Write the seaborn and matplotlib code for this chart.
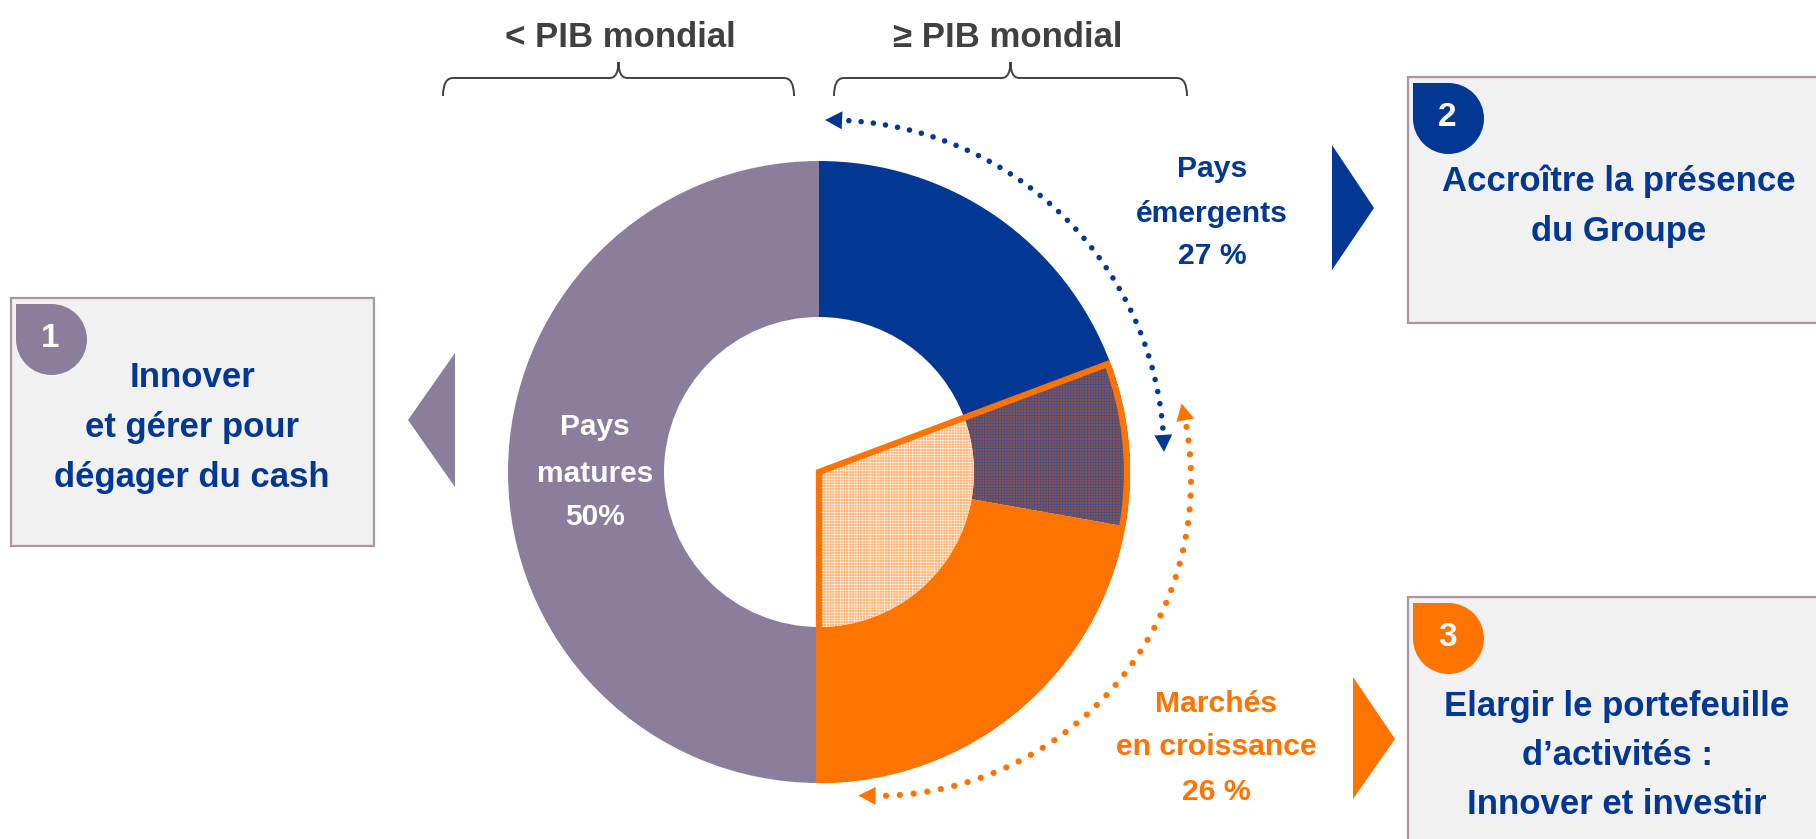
import numpy as np
import matplotlib
matplotlib.use("Agg")
import matplotlib.pyplot as plt
import seaborn as sns
from matplotlib.patches import Wedge, Rectangle, Circle, Polygon, PathPatch
from matplotlib.path import Path

# ring shares in %, clockwise from 12 o'clock
ring_labels = ["Pays émergents", "Émergents et croissance", "Marchés en croissance", "Pays matures"]
ring_shares = [19.3, 8.5, 22.2, 50.0]

seg_texts = ["Pays\némergents\n27 %", "Marchés\nen croissance\n26 %", "Pays\nmatures\n50%"]
pib_titles = ["< PIB mondial", "≥ PIB mondial"]
box_numbers = ["1", "2", "3"]
box_texts = ["Innover\net gérer pour\ndégager du cash",
             "Accroître la présence\ndu Groupe",
             "Elargir le portefeuille\nd’activités :\nInnover et investir"]

BLUE = "#023893"
PURPLE = "#8a7e9c"
ORANGE = "#ff7300"
GREY = "#404040"
BOX_FC = "#f1f1f1"
BOX_EC = "#a8979f"

W, H = 1816, 839

sns.set_theme(style="white")
plt.rcParams["font.family"] = ["Liberation Sans", "DejaVu Sans"]
plt.rcParams["font.weight"] = "bold"
plt.rcParams["hatch.linewidth"] = 0.35


def Y(y):
    # picture rows run downward, axes run upward
    return H - y


def lines_at(x, baselines, text, **kw):
    # one text per line so that each baseline sits where the reference has it
    for base, line in zip(baselines, text.split("\n")):
        ax.text(x, Y(base), line, ha="center", va="baseline", **kw)


fig = plt.figure(figsize=(W / 100, H / 100), dpi=100)
ax = fig.add_axes([0, 0, 1, 1])

# donut
cx, cy = 819, Y(472)
r_out, r_in = 311, 155
wedges, _ = ax.pie(ring_shares, radius=r_out, center=(cx, cy), startangle=90,
                   counterclock=False, colors=[BLUE, "#7d5452", ORANGE, PURPLE],
                   wedgeprops=dict(width=r_out - r_in, linewidth=0))
wedges[1].set_hatch("++++++")
wedges[1].set_edgecolor("#3a4a96")
wedges[1].set_linewidth(0)

bounds = 90 - 3.6 * np.concatenate([[0], np.cumsum(ring_shares)])
th_a, th_b = bounds[3], bounds[1]   # growth markets span
ax.add_patch(Wedge((cx, cy), r_in, th_a, th_b, facecolor="#ffb574", edgecolor="white",
                   hatch="++++++", linewidth=0, zorder=3))
ax.add_patch(Wedge((cx, cy), r_out - 3, th_a, th_b, facecolor="none", edgecolor=ORANGE,
                   linewidth=4.5, joinstyle="miter", zorder=4))

lines_at(595, [435, 482, 525], seg_texts[2], color="white", fontsize=21.5, zorder=5)
lines_at(1212, [177, 222, 264], seg_texts[0], color=BLUE, fontsize=21.7)
lines_at(1216, [712, 755, 800], seg_texts[1], color=ORANGE, fontsize=21.7)


def dotted_arc(c, r, t_start, t_end, color, lw):
    head = np.degrees(17 / r)
    sgn = np.sign(t_end - t_start)
    t = np.radians(np.linspace(t_start + sgn * head * 1.4, t_end - sgn * head * 1.4, 300))
    ax.plot(c[0] + r * np.cos(t), c[1] + r * np.sin(t), color=color, lw=lw,
            linestyle=(0, (0.01, 2.2)), dash_capstyle="round")
    for tip, base in [(t_start, t_start + sgn * head), (t_end, t_end - sgn * head)]:
        tp, bp = np.radians(tip), np.radians(base)
        p_tip = np.array([c[0] + r * np.cos(tp), c[1] + r * np.sin(tp)])
        p_base = np.array([c[0] + r * np.cos(bp), c[1] + r * np.sin(bp)])
        nrm = np.array([np.cos(bp), np.sin(bp)])
        ax.add_patch(Polygon([p_tip, p_base + 9 * nrm, p_base - 9 * nrm], closed=True,
                             facecolor=color, linewidth=0))


dotted_arc((828, Y(456)), 336, 90.5, 0.7, BLUE, 4)
dotted_arc((875, Y(480)), 316, 14, -93, ORANGE, 4.5)


def brace(x0, x1, y_pk=62, y_bar=78, y_end=96):
    xm = (x0 + x1) / 2
    verts = [(x0, y_end), (x0, y_bar), (x0 + 10, y_bar), (xm - 9, y_bar),
             (xm, y_bar), (xm, y_pk), (xm, y_bar), (xm + 9, y_bar),
             (x1 - 10, y_bar), (x1, y_bar), (x1, y_end)]
    codes = [Path.MOVETO, Path.CURVE3, Path.CURVE3, Path.LINETO,
             Path.CURVE3, Path.CURVE3, Path.CURVE3, Path.CURVE3,
             Path.LINETO, Path.CURVE3, Path.CURVE3]
    verts = [(x, Y(y)) for x, y in verts]
    ax.add_patch(PathPatch(Path(verts, codes), facecolor="none", edgecolor=GREY, lw=1.4))


brace(443, 794)
brace(834, 1187)
lines_at(620, [47], pib_titles[0], color=GREY, fontsize=25)
lines_at(1008, [47], pib_titles[1], color=GREY, fontsize=25)

# boxes
box_specs = [
    dict(x=11, top=298, w=363, h=248, col=PURPLE, tx=192, bases=[387, 437, 487],
         tri=[(408, 420), (455, 353), (455, 487)]),
    dict(x=1408, top=77, w=430, h=246, col=BLUE, tx=1619, bases=[191, 241],
         tri=[(1332, 145), (1374, 208), (1332, 270)]),
    dict(x=1408, top=597, w=430, h=260, col=ORANGE, tx=1617, bases=[716, 765, 814],
         tri=[(1353, 677), (1395, 739), (1353, 799)]),
]
for spec, num, txt in zip(box_specs, box_numbers, box_texts):
    ax.add_patch(Rectangle((spec["x"], Y(spec["top"] + spec["h"])), spec["w"], spec["h"],
                           facecolor=BOX_FC, edgecolor=BOX_EC, lw=1.6))
    s = 71
    bx, by = spec["x"] + 5, spec["top"] + 6
    ax.add_patch(Circle((bx + s / 2, Y(by + s / 2)), s / 2, facecolor=spec["col"], lw=0))
    ax.add_patch(Rectangle((bx, Y(by + s / 2)), s / 2, s / 2, facecolor=spec["col"], lw=0))
    ax.text(bx + s / 2 - 1, Y(by + s / 2 - 1), num, color="white", fontsize=24,
            ha="center", va="center")
    lines_at(spec["tx"], spec["bases"], txt, color=BLUE, fontsize=25)
    ax.add_patch(Polygon([(x, Y(y)) for x, y in spec["tri"]], closed=True,
                         facecolor=spec["col"], lw=0))

ax.set_xlim(0, W)
ax.set_ylim(0, H)
ax.set_aspect("equal")
ax.axis("off")
fig.savefig("out.png", dpi=100)
